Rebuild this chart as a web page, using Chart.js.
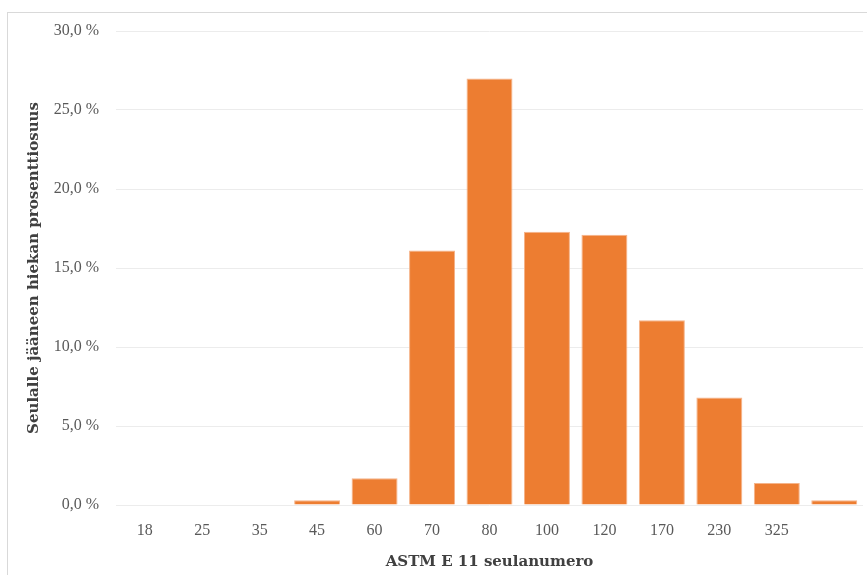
<!DOCTYPE html>
<html lang="fi">
<head>
  <meta charset="UTF-8" />
  <title>Seulonta</title>
  <script src="https://cdn.jsdelivr.net/npm/chart.js"></script>
  <style>
    html, body { margin: 0; padding: 0; background: #fff; }
    .kehys {
      position: absolute; left: 7px; top: 12px; width: 900px; height: 600px;
      border-left: 1px solid #d9d9d9; border-top: 1px solid #d9d9d9;
    }
    .chart-container { position: absolute; left: 0; top: 0; width: 867px; height: 575px; }
  </style>
</head>
<body>
  <div class="kehys"></div>
  <div class="chart-container">
    <canvas id="graafi"></canvas>
  </div>

  <script>
    // seulanumerot (viimeinen = pohja, ei nimeä)
    const seulat = ["18", "25", "35", "45", "60", "70", "80", "100", "120", "170", "230", "325", ""];
    const osuudet = [0, 0, 0, 0.3, 1.7, 16.1, 27.0, 17.3, 17.1, 11.7, 6.8, 1.4, 0.3];
    const yTicks = [0, 5, 10, 15, 20, 25, 30];

    const fontti = "'Liberation Serif', 'DejaVu Serif', serif";
    const otsikkoFontti = "'DejaVu Serif', serif";

    const ctx = document.getElementById("graafi").getContext("2d");
    new Chart(ctx, {
      type: "bar",
      data: {
        labels: seulat,
        datasets: [{
          label: "Osuus",
          data: osuudet,
          backgroundColor: "#ED7D31",
          borderColor: "#F5B48A",
          borderWidth: 1,
          barPercentage: 0.8,
          categoryPercentage: 1.0,
        }],
      },
      options: {
        responsive: true,
        maintainAspectRatio: false,
        animation: false,
        layout: { padding: { left: 25, top: 31, right: 4, bottom: 4 } },
        plugins: {
          legend: { display: false },
          tooltip: { enabled: false },
        },
        scales: {
          x: {
            grid: { display: false },
            border: { display: false },
            ticks: {
              color: "#595959",
              padding: 8,
              font: { family: fontti, size: 16 },
              maxRotation: 0,
            },
            title: {
              display: true,
              text: "ASTM E 11 seulanumero",
              color: "#404040",
              font: { family: otsikkoFontti, size: 15, weight: "bold" },
              padding: { top: 12, bottom: 0 },
            },
            afterFit: function (scale) { scale.height = 66; },
          },
          y: {
            min: 0,
            max: 30,
            afterBuildTicks: function (scale) {
              scale.ticks = yTicks.map(function (v) { return { value: v }; });
            },
            grid: { color: "#ececec", lineWidth: 1, drawTicks: false },
            border: { display: false },
            ticks: {
              color: "#595959",
              padding: 17,
              font: { family: fontti, size: 16 },
              callback: function (value) {
                return value.toFixed(1).replace(".", ",") + " %";
              },
            },
            title: {
              display: true,
              text: "Seulalle jääneen hiekan prosenttiosuus",
              color: "#404040",
              font: { family: otsikkoFontti, size: 15, weight: "bold" },
              padding: { top: 0, bottom: 0 },
            },
            afterFit: function (scale) { scale.width = 91; },
          },
        },
      },
    });
  </script>
</body>
</html>
